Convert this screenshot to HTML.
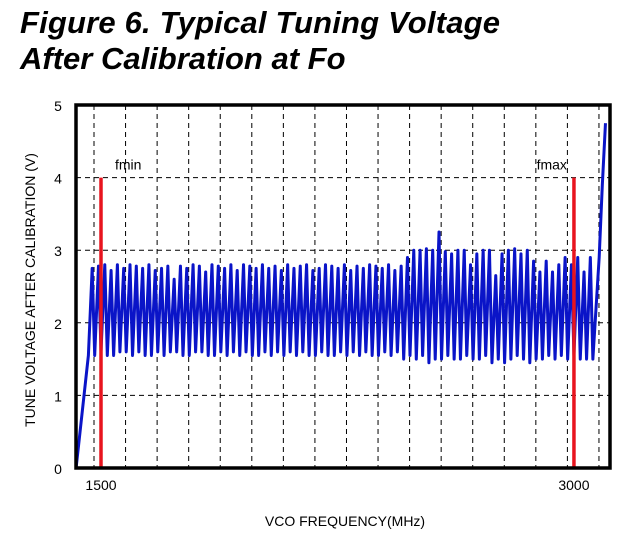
<!DOCTYPE html>
<html><head><meta charset="utf-8"><style>
body{margin:0;background:#fff;width:641px;height:534px;overflow:hidden;font-family:"Liberation Sans",sans-serif}
</style></head><body>
<svg width="641" height="534" viewBox="0 0 641 534">
<text x="20" y="33" font-size="31" font-weight="bold" font-style="italic" textLength="480">Figure 6. Typical Tuning Voltage</text>
<text x="20" y="69" font-size="31" font-weight="bold" font-style="italic">After Calibration at Fo</text>
<g id="grid"></g>
<g id="marks"></g>
<rect x="76" y="105" width="534" height="363" fill="none" stroke="#000" stroke-width="3.5"/>
<g id="axes"></g>
<text x="345" y="526" font-size="14" text-anchor="middle">VCO FREQUENCY(MHz)</text>
<text transform="translate(35,290) rotate(-90)" font-size="14" text-anchor="middle">TUNE VOLTAGE AFTER CALIBRATION (V)</text>
</svg>
<script>
const yTicks=[0,1,2,3,4,5];
const xTickLabels=[1500,3000];
const markers=[{label:"fmin",f:1500},{label:"fmax",f:3000}];
const toothFreq=[1460,1480,1500,1520,1540,1560,1580,1600,1620,1640,1660,1680,1700,1720,1740,1760,1780,1800,1820,1840,1860,1880,1900,1920,1940,1960,1980,2000,2020,2040,2060,2080,2100,2120,2140,2160,2180,2200,2220,2240,2260,2280,2300,2320,2340,2360,2380,2400,2420,2440,2460,2480,2500,2520,2540,2560,2580,2600,2620,2640,2660,2680,2700,2720,2740,2760,2780,2800,2820,2840,2860,2880,2900,2920,2940,2960,2980,3000,3020,3040];
const toothLow=[1.55,1.55,1.6,1.55,1.55,1.6,1.6,1.55,1.6,1.55,1.55,1.6,1.55,1.6,1.6,1.55,1.55,1.6,1.6,1.55,1.55,1.6,1.55,1.6,1.55,1.6,1.55,1.55,1.6,1.55,1.6,1.55,1.6,1.55,1.6,1.55,1.55,1.6,1.55,1.55,1.6,1.55,1.6,1.55,1.6,1.55,1.55,1.6,1.55,1.6,1.5,1.55,1.5,1.55,1.45,1.5,1.5,1.55,1.5,1.5,1.55,1.5,1.5,1.55,1.45,1.5,1.45,1.5,1.55,1.5,1.45,1.5,1.5,1.55,1.5,1.55,1.5,1.55,1.5,1.5];
const toothHigh=[2.75,2.78,2.8,2.72,2.8,2.75,2.8,2.78,2.75,2.8,2.72,2.75,2.78,2.6,2.78,2.75,2.8,2.78,2.7,2.8,2.78,2.75,2.8,2.72,2.8,2.78,2.75,2.8,2.75,2.78,2.72,2.8,2.75,2.78,2.8,2.72,2.75,2.8,2.78,2.75,2.8,2.72,2.78,2.75,2.8,2.78,2.75,2.8,2.72,2.78,2.9,3.0,3.0,3.02,3.0,3.25,2.98,2.95,3.0,3.0,2.8,2.95,3.0,3.0,2.65,2.95,3.0,3.02,2.95,3.0,2.85,2.7,2.85,2.7,2.8,2.9,2.8,2.9,2.7,2.9];
const tailFreq=[3060,3080,3090,3100];
const tailVolt=[1.5,2.9,3.9,4.75];
const X=f=>101+(f-1500)*0.3153, Y=v=>468-v*72.6;
const NS="http://www.w3.org/2000/svg";
function el(t,a,p){const e=document.createElementNS(NS,t);for(const k in a)e.setAttribute(k,a[k]);p.appendChild(e);return e;}
const grid=document.getElementById('grid'),marks=document.getElementById('marks'),axes=document.getElementById('axes');
for(let i=0;i<17;i++){const x=94+i*31.56;const l=el('line',{x1:x,x2:x,y1:105,y2:468,stroke:'#000','stroke-width':1,'stroke-dasharray':'5,4'},grid);

}
yTicks.forEach(v=>{if(v>0&&v<5){const l=el('line',{x1:76,x2:610,y1:Y(v),y2:Y(v),stroke:'#000','stroke-width':1,'stroke-dasharray':'5,4'},grid);

}
const t=el('text',{x:58,y:Y(v)+6,'font-size':14,'text-anchor':'middle'},axes);t.textContent=v;

});
xTickLabels.forEach(f=>{const t=el('text',{x:X(f),y:490,'font-size':14,'text-anchor':'middle'},axes);t.textContent=f;

});
let pts=[[X(1421),Y(0)]];
toothFreq.forEach((f,i)=>{pts.push([X(f),Y(toothLow[i])]);pts.push([X(f+12),Y(toothHigh[i])]);});
tailFreq.forEach((f,i)=>pts.push([X(f),Y(tailVolt[i])]));
const pl=el('polyline',{points:pts.map(p=>p.join(',')).join(' '),fill:'none',stroke:'#0a14c8','stroke-width':3,'stroke-linejoin':'round'},marks);


markers.forEach(m=>{const l=el('line',{x1:X(m.f),x2:X(m.f),y1:Y(4),y2:468,stroke:'#e8141e','stroke-width':3.5},marks);


const t=el('text',{x:m.label==='fmin'?X(m.f)+14:X(m.f)-7,y:Y(4)-8,'font-size':14,'text-anchor':m.label==='fmin'?'start':'end'},marks);t.textContent=m.label;

});
</script>
</body></html>
